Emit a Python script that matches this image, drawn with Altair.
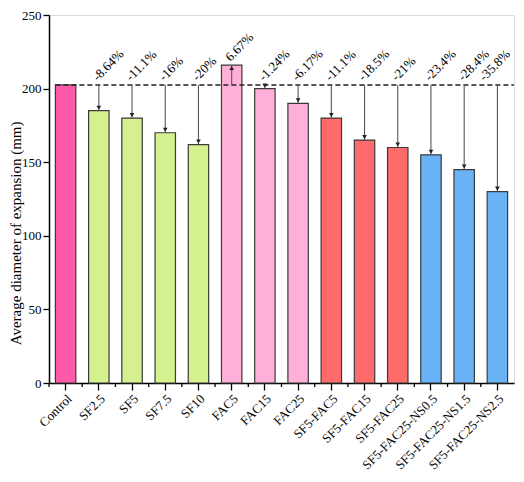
import altair as alt
import pandas as pd

categories = ["Control", "SF2.5", "SF5", "SF7.5", "SF10", "FAC5", "FAC15", "FAC25",
              "SF5-FAC5", "SF5-FAC15", "SF5-FAC25", "SF5-FAC25-NS0.5",
              "SF5-FAC25-NS1.5", "SF5-FAC25-NS2.5"]
values = [202.5, 185, 180, 170, 162, 216, 200, 190, 180, 165, 160, 155, 145, 130]
groups = ["control", "SF", "SF", "SF", "SF", "FAC", "FAC", "FAC",
          "SFFAC", "SFFAC", "SFFAC", "NS", "NS", "NS"]
changes = ["", "-8.64%", "-11.1%", "-16%", "-20%", "6.67%", "-1.24%", "-6.17%",
           "-11.1%", "-18.5%", "-21%", "-23.4%", "-28.4%", "-35.8%"]
baseline_value = 202.5

group_names = ["control", "SF", "FAC", "SFFAC", "NS"]
group_colors = ["#FF5AAA", "#D5F08F", "#FFB0D8", "#FF6B6B", "#6BB3F7"]

W, H = 465, 368
LEFT, TOP = 41, 7
FONT = "Liberation Serif"
P_INNER = 0.385
STEP = W / len(categories)

df = pd.DataFrame({"cat": categories, "val": values, "grp": groups, "chg": changes})
df["base"] = baseline_value
df["top"] = df[["val", "base"]].max(axis=1)
ann = df[df["cat"] != "Control"].copy()
down = ann[ann["val"] < baseline_value]
up = ann[ann["val"] >= baseline_value]
last_cat = categories[-1]
ann_main = ann[ann["cat"] != last_cat]
ann_last = ann[ann["cat"] == last_cat]

xscale = alt.Scale(domain=categories, paddingInner=P_INNER, paddingOuter=P_INNER / 2)
yscale = alt.Scale(domain=[0, 250], nice=False)

x_enc = alt.X("cat:N", sort=categories, scale=xscale, title=None,
              axis=alt.Axis(labelAngle=315, labelAlign="right", labelBaseline="top",
                            labelFont=FONT, labelFontSize=13, labelColor="black",
                            tickColor="black", tickSize=7, tickWidth=1.3,
                            domainColor="black", domainWidth=1.5, labelPadding=2,
                            grid=False))

bars = alt.Chart(df).mark_bar(stroke="#3a3a3a", strokeWidth=1.2).encode(
    x=x_enc,
    y=alt.Y("val:Q", scale=yscale, title="Average diameter of expansion (mm)",
            axis=alt.Axis(values=[0, 25, 50, 75, 100, 125, 150, 175, 200, 225, 250],
                          labelExpr="datum.value % 50 === 0 ? datum.label : ''",
                          tickSize={"condition": {"test": "datum.value % 50 === 0", "value": 6}, "value": 4},
                          labelFont=FONT, labelFontSize=13, labelColor="black",
                          labelPadding=2,
                          titleFont=FONT, titleFontSize=15, titleFontWeight="normal",
                          titleColor="black", titleX=-LEFT, titleY=H * 0.592,
                          titleBaseline="top", titleAngle=270,
                          tickColor="black", tickWidth=1.3, domainColor="black",
                          domainWidth=1.5, grid=False)),
    color=alt.Color("grp:N", scale=alt.Scale(domain=group_names, range=group_colors),
                    legend=None),
)

minor_x = alt.Chart(df).mark_rule(color="black", strokeWidth=1.3,
                                  xOffset=-STEP * P_INNER / 2).encode(
    x=alt.X("cat:N", sort=categories, scale=xscale, bandPosition=0),
    y=alt.value(H),
    y2=alt.value(H + 4),
)

dash = alt.Chart(df[df["cat"] == "Control"]).mark_rule(
    color="#222", strokeDash=[5, 3], strokeWidth=1.5).encode(
    x=alt.X("cat:N", sort=categories, scale=xscale, bandPosition=0),
    x2=alt.value(W),
    y=alt.Y("base:Q", scale=yscale),
)

arrows = alt.Chart(ann).mark_rule(color="#555", strokeWidth=1.1).encode(
    x=alt.X("cat:N", sort=categories, scale=xscale),
    y=alt.Y("base:Q", scale=yscale),
    y2="val:Q",
)

heads_down = alt.Chart(down).mark_point(shape="triangle-down", filled=True, size=22,
                                        color="#222", opacity=1, yOffset=-3).encode(
    x=alt.X("cat:N", sort=categories, scale=xscale),
    y=alt.Y("val:Q", scale=yscale),
)
heads_up = alt.Chart(up).mark_point(shape="triangle-up", filled=True, size=22,
                                    color="#222", opacity=1, yOffset=3).encode(
    x=alt.X("cat:N", sort=categories, scale=xscale),
    y=alt.Y("val:Q", scale=yscale),
)


def label_layer(data, xoff):
    return alt.Chart(data).mark_text(angle=315, align="left", baseline="middle",
                                     font=FONT, fontSize=13, color="black",
                                     xOffset=xoff, yOffset=-6).encode(
        x=alt.X("cat:N", sort=categories, scale=xscale),
        y=alt.Y("top:Q", scale=yscale),
        text="chg:N",
    )


labels_main = label_layer(ann_main, -4)
labels_last = label_layer(ann_last, -16)

chart = alt.layer(bars, minor_x, dash, arrows, heads_down, heads_up,
                  labels_main, labels_last).properties(
    width=W, height=H,
    autosize=alt.AutoSizeParams(type="none"),
    padding={"left": LEFT, "top": TOP, "right": 508 - LEFT - W, "bottom": 466 - TOP - H},
).configure_view(stroke="black", strokeWidth=1.5).configure(background="white")

chart.save("out.html", embed_options={"renderer": "svg", "actions": False})
